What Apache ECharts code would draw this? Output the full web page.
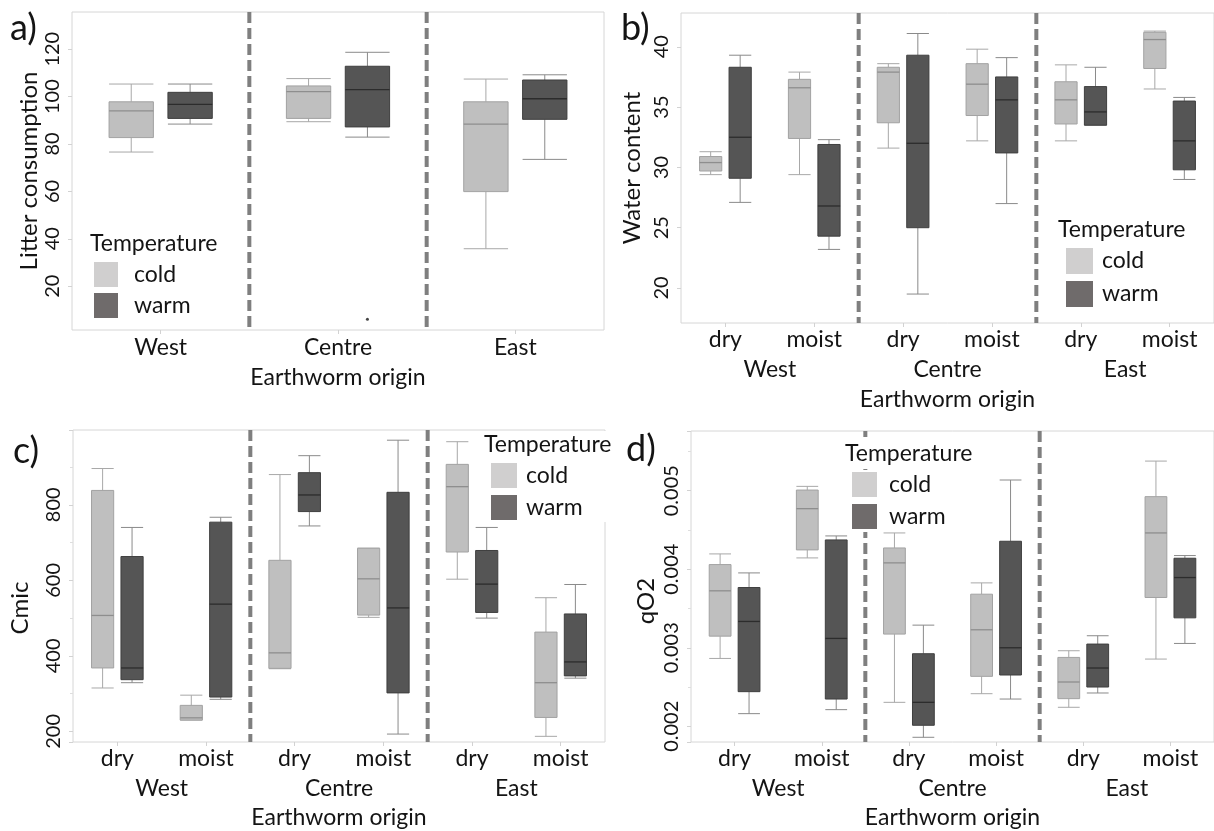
<!DOCTYPE html>
<html>
<head>
<meta charset="utf-8">
<script src="https://cdn.jsdelivr.net/npm/echarts@6/dist/echarts.min.js"></script>
<style>
  html, body { margin: 0; padding: 0; background: #ffffff; }
  #chart { width: 1214px; height: 831px; }
</style>
</head>
<body>
<div id="chart"></div>
<script>
// ---- categories ----
const origins = ['West', 'Centre', 'East'];
const moisture = ['dry', 'moist', 'dry', 'moist', 'dry', 'moist'];
const temperatures = ['cold', 'warm'];

// Each box: [lower whisker, Q1, median, Q3, upper whisker]

// a) litter consumption, one box per origin
const litterCold = [[76.6, 82.7, 94.0, 97.8, 105.3], [89.4, 90.8, 102.1, 104.5, 107.6], [35.8, 59.9, 88.4, 97.8, 107.4]];
const litterWarm = [[88.4, 90.8, 96.7, 101.8, 105.3], [82.9, 87.2, 102.9, 112.8, 118.7], [73.5, 90.4, 99.1, 107.0, 109.2]];
// outliers: [origin index, value]
const litterWarmOutliers = [[1, 6.0]];

// b)–d): one box per origin x moisture (West dry, West moist, Centre dry, Centre moist, East dry, East moist)
const waterCold = [[29.4, 29.7, 30.4, 30.9, 31.3], [29.4, 32.4, 36.6, 37.3, 37.9], [31.6, 33.7, 37.9, 38.3, 38.6],
                   [32.2, 34.3, 36.9, 38.6, 39.8], [32.2, 33.6, 35.6, 37.1, 38.5], [36.5, 38.2, 40.6, 41.2, 41.3]];
const waterWarm = [[27.1, 29.1, 32.5, 38.3, 39.3], [23.2, 24.3, 26.8, 31.9, 32.3], [19.5, 25.0, 32.0, 39.3, 41.1],
                   [27.0, 31.2, 35.6, 37.5, 39.1], [33.5, 33.5, 34.6, 36.7, 38.3], [29.0, 29.8, 32.2, 35.5, 35.8]];

const cmicCold = [[315, 368, 507, 838, 896], [230, 230, 236, 269, 296], [366, 367, 408, 653, 880],
                  [502, 508, 604, 685, 685], [603, 675, 848, 907, 967], [187, 237, 329, 463, 554]];
const cmicWarm = [[329, 337, 368, 663, 740], [285, 291, 537, 754, 767], [744, 782, 826, 885, 930],
                  [193, 302, 527, 833, 971], [500, 515, 590, 679, 740], [341, 347, 384, 511, 589]];

const qo2Cold = [[0.002864, 0.003148, 0.003725, 0.004059, 0.004195], [0.004144, 0.004246, 0.004771, 0.005008, 0.005055],
                 [0.002305, 0.003174, 0.004081, 0.004271, 0.004462], [0.002415, 0.002636, 0.003229, 0.003682, 0.003826],
                 [0.002242, 0.002352, 0.002564, 0.002877, 0.002962], [0.002856, 0.003640, 0.004462, 0.004924, 0.005377]];
const qo2Warm = [[0.002161, 0.002441, 0.003335, 0.003767, 0.003953], [0.002212, 0.002347, 0.003119, 0.004373, 0.004424],
                 [0.001860, 0.002013, 0.002305, 0.002924, 0.003288], [0.002347, 0.002653, 0.003000, 0.004356, 0.005136],
                 [0.002424, 0.002500, 0.002742, 0.003047, 0.003153], [0.003055, 0.003381, 0.003894, 0.004140, 0.004174]];

// ---- drawing helpers ----
const FONT = 'Lato';
const INK = '#141414';
const BOX_WIDTH = 0.25;    // fraction of a category band
const BOX_OFFSET = 0.166;  // centre shift of each temperature, fraction of band

const LOOK = {
  cold: { fill: '#bfbfbf', border: '#a2a2a2', median: '#8e8e8e', whisker: '#a8a8a8', swatch: '#d0cfcf' },
  warm: { fill: '#555555', border: '#3f3f3f', median: '#2c2c2c', whisker: '#8a8a8a', swatch: '#6f6b6b' }
};

function boxRenderer(side, look) {
  return function (params, api) {
    const i = api.value(0);
    const band = api.size([1, 0])[0];
    const cx = api.coord([i, api.value(3)])[0] + side * BOX_OFFSET * band;
    const hw = BOX_WIDTH * band / 2;
    const y = k => api.coord([i, api.value(k)])[1];
    const yLow = y(1), yQ1 = y(2), yMed = y(3), yQ3 = y(4), yHigh = y(5);
    const ws = { stroke: look.whisker, lineWidth: 1 };
    return {
      type: 'group',
      children: [
        { type: 'line', shape: { x1: cx, y1: yHigh, x2: cx, y2: yQ3 }, style: ws },
        { type: 'line', shape: { x1: cx, y1: yQ1, x2: cx, y2: yLow }, style: ws },
        { type: 'line', shape: { x1: cx - hw, y1: yHigh, x2: cx + hw, y2: yHigh }, style: ws },
        { type: 'line', shape: { x1: cx - hw, y1: yLow, x2: cx + hw, y2: yLow }, style: ws },
        { type: 'rect', shape: { x: cx - hw, y: yQ3, width: 2 * hw, height: yQ1 - yQ3 },
          style: { fill: look.fill, stroke: look.border, lineWidth: 1 } },
        { type: 'line', shape: { x1: cx - hw, y1: yMed, x2: cx + hw, y2: yMed },
          style: { stroke: look.median, lineWidth: 1.3 } }
      ]
    };
  };
}

function outlierRenderer(side, color) {
  return function (params, api) {
    const i = api.value(0);
    const band = api.size([1, 0])[0];
    const p = api.coord([i, api.value(1)]);
    return { type: 'circle', shape: { cx: p[0] + side * BOX_OFFSET * band, cy: p[1], r: 1.5 }, style: { fill: color } };
  };
}

// dashed separator on the left edge of an origin band
function separatorRenderer(params, api) {
  const band = api.size([1, 0])[0];
  const x = api.coord([api.value(0), api.value(1)])[0] - band / 2;
  const cs = params.coordSys;
  return {
    type: 'line',
    shape: { x1: x, y1: cs.y, x2: x, y2: cs.y + cs.height },
    style: { stroke: '#7f7f7f', lineWidth: 4, lineDash: [11, 5] }
  };
}

const asItems = rows => rows.map((r, i) => [i].concat(r));

function boxSeries(name, rows, xi, yi) {
  const side = name === 'cold' ? -1 : 1;
  return {
    type: 'custom', name: name, xAxisIndex: xi, yAxisIndex: yi,
    itemStyle: { color: LOOK[name].swatch },
    encode: { x: 0, y: [1, 2, 3, 4, 5] },
    renderItem: boxRenderer(side, LOOK[name]),
    data: asItems(rows), z: 3, silent: true
  };
}

function separatorSeries(xi, yi, yRef) {
  return {
    type: 'custom', xAxisIndex: xi, yAxisIndex: yi,
    encode: { x: 0, y: 1 },
    renderItem: separatorRenderer,
    data: [[1, yRef], [2, yRef]], z: 2, silent: true
  };
}

// ---- axes ----
function valueAxis(gi, name, min, max, split, nameGap, namePad, minor) {
  return {
    type: 'value', gridIndex: gi, min: min, max: max, splitNumber: split,
    name: name, nameLocation: 'middle', nameGap: nameGap,
    nameTextStyle: { fontFamily: FONT, fontSize: 24, color: INK, padding: namePad },
    axisLine: { show: false },
    axisTick: { show: true, length: 4, lineStyle: { color: '#d2d2d2' } },
    minorTick: { show: !!minor, splitNumber: 2, length: 3, lineStyle: { color: '#dedede' } },
    splitLine: { show: false },
    axisLabel: { rotate: 90, margin: 9, fontFamily: FONT, fontSize: 20, color: INK,
                 showMinLabel: false, showMaxLabel: false }
  };
}

function catAxis(gi, cats, margin, name, nameGap, ticks) {
  return {
    type: 'category', gridIndex: gi, data: cats, position: 'bottom',
    name: name || '', nameLocation: 'middle', nameGap: nameGap || 0,
    nameTextStyle: { fontFamily: FONT, fontSize: 23, color: INK },
    axisLine: { show: false },
    axisTick: { show: !!ticks, alignWithLabel: true, length: 4, lineStyle: { color: '#d2d2d2' } },
    splitLine: { show: false },
    axisLabel: { margin: margin, fontFamily: FONT, fontSize: 23, color: INK, interval: 0 }
  };
}

const gridStyle = { show: true, borderColor: '#d6d6d6', borderWidth: 1, backgroundColor: 'transparent' };

const option = {
  backgroundColor: '#ffffff',
  animation: false,
  grid: [
    Object.assign({ left: 72, top: 12, width: 532, height: 318 }, gridStyle),
    Object.assign({ left: 681, top: 13, width: 536, height: 310 }, gridStyle),
    Object.assign({ left: 73, top: 430, width: 532, height: 312 }, gridStyle),
    Object.assign({ left: 691, top: 431, width: 527, height: 311 }, gridStyle)
  ],
  xAxis: [
    catAxis(0, origins, 6, 'Earthworm origin', 36, true),
    catAxis(1, moisture, 5, '', 0, true),
    catAxis(1, origins, 35, 'Earthworm origin', 65, false),
    catAxis(2, moisture, 5, '', 0, true),
    catAxis(2, origins, 35, 'Earthworm origin', 64, false),
    catAxis(3, moisture, 5, '', 0, true),
    catAxis(3, origins, 35, 'Earthworm origin', 64, false)
  ],
  yAxis: [
    valueAxis(0, 'Litter consumption', 1.5, 135.7, 7, 31, [0, 0, 0, 0], false),
    valueAxis(1, 'Water content', 17.1, 42.8, 5, 37, [0, 0, 0, 0], false),
    valueAxis(2, 'Cmic', 172, 998, 4, 41, [0, 44, 0, 0], true),
    valueAxis(3, 'qO2', 0.0018, 0.00576, 4, 33, [0, 29, 0, 0], true)
  ],
  title: [
    { text: 'a)', left: 10, top: 10, padding: 0, textStyle: { fontFamily: FONT, fontSize: 36, fontWeight: 'normal', color: INK } },
    { text: 'b)', left: 621, top: 10, padding: 0, textStyle: { fontFamily: FONT, fontSize: 36, fontWeight: 'normal', color: INK } },
    { text: 'c)', left: 13, top: 433, padding: 0, textStyle: { fontFamily: FONT, fontSize: 36, fontWeight: 'normal', color: INK } },
    { text: 'd)', left: 626, top: 431, padding: 0, textStyle: { fontFamily: FONT, fontSize: 36, fontWeight: 'normal', color: INK } },
    { text: 'Temperature', left: 90, top: 232, padding: 0, textStyle: { fontFamily: FONT, fontSize: 23, fontWeight: 'normal', color: INK } },
    { text: 'Temperature', left: 1058, top: 218, padding: 0, textStyle: { fontFamily: FONT, fontSize: 23, fontWeight: 'normal', color: INK } },
    { text: 'Temperature', left: 471, top: 431, padding: [2, 4, 6, 13], backgroundColor: '#ffffff',
      textStyle: { fontFamily: FONT, fontSize: 23, fontWeight: 'normal', color: INK } },
    { text: 'Temperature', left: 840, top: 437, padding: [5, 6, 4, 5], backgroundColor: '#ffffff',
      textStyle: { fontFamily: FONT, fontSize: 23, fontWeight: 'normal', color: INK } }
  ],
  legend: [
    { left: 94, top: 262, padding: 0, itemGap: 6, itemWidth: 24, itemHeight: 25 },
    { left: 1066, top: 248, padding: 0, itemGap: 7, itemWidth: 27, itemHeight: 26 },
    { left: 481, top: 461, padding: [2, 30, 2, 10], itemGap: 7, itemWidth: 26, itemHeight: 25, backgroundColor: '#ffffff' },
    { left: 846, top: 470, padding: [2, 30, 3, 6], itemGap: 7, itemWidth: 25, itemHeight: 25, backgroundColor: '#ffffff' }
  ].map((l, k) => Object.assign({
    orient: 'vertical', icon: 'rect', data: temperatures, selectedMode: false,
    itemStyle: { borderWidth: 0 },
    textStyle: { fontFamily: FONT, fontSize: 23, color: INK, lineHeight: 25, padding: [0, 0, 0, [11, 4, 4, 7][k]] }
  }, l)),
  series: [
    // a)
    separatorSeries(0, 0, 50),
    boxSeries('cold', litterCold, 0, 0),
    boxSeries('warm', litterWarm, 0, 0),
    { type: 'custom', xAxisIndex: 0, yAxisIndex: 0, encode: { x: 0, y: 1 }, silent: true, z: 3,
      renderItem: outlierRenderer(1, '#444444'), data: litterWarmOutliers },
    // b)
    separatorSeries(2, 1, 30),
    boxSeries('cold', waterCold, 1, 1),
    boxSeries('warm', waterWarm, 1, 1),
    // c)
    separatorSeries(4, 2, 500),
    boxSeries('cold', cmicCold, 3, 2),
    boxSeries('warm', cmicWarm, 3, 2),
    // d)
    separatorSeries(6, 3, 0.003),
    boxSeries('cold', qo2Cold, 5, 3),
    boxSeries('warm', qo2Warm, 5, 3)
  ]
};

const chart = echarts.init(document.getElementById('chart'), null, { renderer: 'canvas' });
chart.setOption(option);
</script>
</body>
</html>
